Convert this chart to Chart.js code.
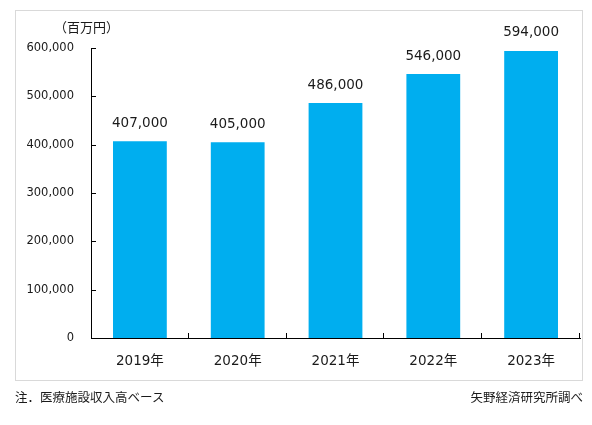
<!DOCTYPE html>
<html>
<head>
<meta charset="utf-8">
<script src="https://cdn.jsdelivr.net/npm/chart.js@4"></script>
<style>
  html, body { margin: 0; padding: 0; background: #fff; }
  #wrap { position: relative; width: 592px; height: 425px; }
  canvas { position: absolute; left: 0; top: 0; }
  .note { position: absolute; font-family: "Noto Sans CJK JP", sans-serif; font-size: 12.5px; color: #1a1a1a; line-height: 16px; }
</style>
</head>
<body>
<div id="wrap">
  <canvas id="chart" width="592" height="425"></canvas>
  <div class="note" id="unit" style="left:54px; top:19px; font-size:13px;">（百万円）</div>
  <div class="note" style="left:15px; top:389px;">注．医療施設収入高ベース</div>
  <div class="note" style="right:9px; top:389px;">矢野経済研究所調べ</div>
</div>
<script>
// data
const years = ["2019年", "2020年", "2021年", "2022年", "2023年"];
const revenue = [407000, 405000, 486000, 546000, 594000];
const yTicks = [0, 100000, 200000, 300000, 400000, 500000, 600000];

const barColor = "#00aeef";
const textColor = "#1a1a1a";
const numFont = '"DejaVu Sans", "Noto Sans CJK JP", sans-serif';

function fmt(v) {
    return v.toLocaleString("en-US");
}

// outer frame, inward tick marks and value labels
const decorations = {
    id: "decorations",
    beforeDraw(chart) {
        const ctx = chart.ctx;
        ctx.save();
        ctx.strokeStyle = "#d9d9d9";
        ctx.lineWidth = 1;
        ctx.strokeRect(15.5, 10.5, 567, 370);
        ctx.restore();
    },
    afterDraw(chart) {
        const ctx = chart.ctx;
        const x = chart.scales.x;
        const y = chart.scales.y;
        ctx.save();
        ctx.strokeStyle = "#000";
        ctx.lineWidth = 1;
        ctx.beginPath();
        // y ticks pointing into the plot
        yTicks.forEach(v => {
            const py = Math.round(y.getPixelForValue(v)) + 0.5;
            ctx.moveTo(x.left, py);
            ctx.lineTo(x.left + 5, py);
        });
        // x ticks between categories, pointing up
        const step = (x.right - x.left) / years.length;
        for (let i = 1; i <= years.length; i++) {
            const px = Math.round(x.left + step * i) - 0.5;
            ctx.moveTo(px, y.bottom);
            ctx.lineTo(px, y.bottom - 5);
        }
        ctx.stroke();

        // value labels above bars
        ctx.fillStyle = textColor;
        ctx.font = "13.5px " + numFont;
        ctx.textAlign = "center";
        ctx.textBaseline = "middle";
        chart.getDatasetMeta(0).data.forEach((bar, i) => {
            ctx.fillText(fmt(revenue[i]), bar.x, bar.y - 18);
        });
        ctx.restore();
    }
};

new Chart(document.getElementById("chart"), {
    type: "bar",
    data: {
        labels: years,
        datasets: [{
            data: revenue,
            backgroundColor: barColor,
            borderWidth: 0,
            barPercentage: 0.55,
            categoryPercentage: 1
        }]
    },
    options: {
        responsive: false,
        animation: false,
        layout: { padding: { top: 48, right: 12, left: 0, bottom: 0 } },
        plugins: {
            legend: { display: false },
            tooltip: { enabled: false }
        },
        scales: {
            x: {
                grid: { display: false, drawTicks: false },
                border: { display: true, color: "#000", width: 1 },
                ticks: {
                    color: textColor,
                    font: { family: numFont, size: 13.5 },
                    padding: 15
                },
                afterFit(scale) { scale.height = 87; }
            },
            y: {
                min: 0,
                max: 600000,
                afterBuildTicks(scale) {
                    scale.ticks = yTicks.map(v => ({ value: v }));
                },
                grid: { display: false, drawTicks: false },
                border: { display: true, color: "#000", width: 1 },
                ticks: {
                    color: textColor,
                    font: { family: numFont, size: 11.5 },
                    padding: 17,
                    callback: v => fmt(v)
                },
                afterFit(scale) { scale.width = 91; }
            }
        }
    },
    plugins: [decorations]
});
</script>
</body>
</html>
